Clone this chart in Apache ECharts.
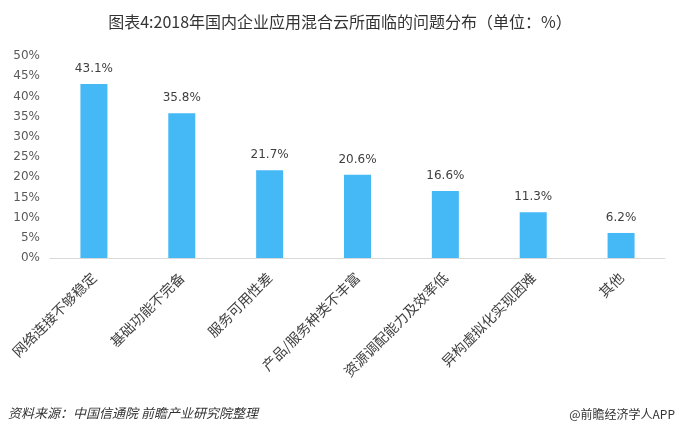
<!DOCTYPE html>
<html><head><meta charset="utf-8">
<script src="https://cdn.jsdelivr.net/npm/echarts@6/dist/echarts.min.js"></script>
<style>html,body{margin:0;padding:0;background:#fff}#c{width:680px;height:431px}</style>
</head><body><div id="c"></div>
<script>
var categories = ['网络连接不够稳定','基础功能不完备','服务可用性差','产品/服务种类不丰富','资源调配能力及效率低','异构虚拟化实现困难','其他'];
var values = [43.1, 35.8, 21.7, 20.6, 16.6, 11.3, 6.2];
var titleText = '图表4:2018年国内企业应用混合云所面临的问题分布（单位：%）';
var sourceText = '资料来源：中国信通院 前瞻产业研究院整理';
var brandText = '@前瞻经济学人APP';

var chart = echarts.init(document.getElementById('c'), null, {renderer:'canvas'});
chart.setOption({
  animation:false,
  backgroundColor:'#fff',
  title:[
    {text:titleText,left:'center',top:9,textStyle:{fontSize:16,fontWeight:'normal',color:'#333',fontFamily:'Noto Sans CJK SC'}},
    {text:sourceText,left:3,top:402,textStyle:{fontSize:13,fontWeight:'normal',fontStyle:'italic',color:'#333',fontFamily:'Noto Sans CJK SC'}},
    {text:brandText,right:0,top:403,textStyle:{fontSize:12,fontWeight:'normal',color:'#333',fontFamily:'Noto Sans CJK SC'}}
  ],
  grid:{left:50,right:15,top:56,bottom:173,containLabel:false},
  xAxis:{type:'category',data:categories,
    axisLine:{lineStyle:{color:'#d9d9d9',width:1}},axisTick:{show:false},
    axisLabel:{rotate:45,interval:0,fontSize:14,color:'#404040',fontFamily:'Noto Sans CJK SC',margin:17}},
  yAxis:{type:'value',min:0,max:50,interval:5,
    axisLine:{show:false},axisTick:{show:false},splitLine:{show:false},
    axisLabel:{formatter:'{value}%',fontSize:12,color:'#595959',fontFamily:'DejaVu Sans',margin:10}},
  series:[{type:'bar',data:values,barWidth:27,
    itemStyle:{color:'#45B8F6'},
    label:{show:true,position:'top',distance:9,formatter:function(p){return p.value.toFixed(1)+'%';},fontSize:12,color:'#404040',fontFamily:'DejaVu Sans'}}]
});
</script></body></html>
